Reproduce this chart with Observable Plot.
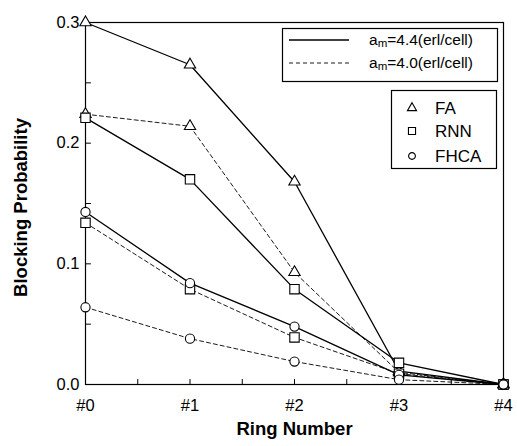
<!DOCTYPE html>
<html>
<head>
<meta charset="utf-8">
<script src="https://cdn.jsdelivr.net/npm/d3@7"></script>
<script src="https://cdn.jsdelivr.net/npm/@observablehq/plot@0.6"></script>
<style>
  body { margin: 0; background: #fff; }
  #wrap { position: relative; width: 517px; height: 446px; font-family: "Liberation Sans", Arial, Helvetica, sans-serif; }
  #legend { position: absolute; left: 0; top: 0; pointer-events: none; }
</style>
</head>
<body>
<div id="wrap"></div>
<script>
// ---- data ----
const rings = [0, 1, 2, 3, 4];
const ringLabels = ["#0", "#1", "#2", "#3", "#4"];
const ringMinorTicks = [0.5, 1.5, 2.5, 3.5];
const yMajorTicks = [0, 0.1, 0.2, 0.3];
const yMinorTicks = [0.05, 0.15, 0.25];
const methods = ["FA", "RNN", "FHCA"];
const loads = ["am=4.4(erl/cell)", "am=4.0(erl/cell)"];

// am = 4.4 (solid)
const faHigh   = [0.300, 0.265, 0.168, 0.011, 0];
const rnnHigh  = [0.221, 0.170, 0.079, 0.018, 0];
const fhcaHigh = [0.143, 0.084, 0.048, 0.008, 0];
// am = 4.0 (dashed)
const faLow    = [0.224, 0.214, 0.093, 0.010, 0];
const rnnLow   = [0.134, 0.079, 0.039, 0.009, 0];
const fhcaLow  = [0.064, 0.038, 0.019, 0.004, 0];

const series = [
  {method: "FA", load: "high", values: faHigh},
  {method: "RNN", load: "high", values: rnnHigh},
  {method: "FHCA", load: "high", values: fhcaHigh},
  {method: "FA", load: "low", values: faLow},
  {method: "RNN", load: "low", values: rnnLow},
  {method: "FHCA", load: "low", values: fhcaLow}
];
const rows = series.flatMap(s => s.values.map((v, i) => ({ring: rings[i], value: v, method: s.method, load: s.load, key: s.method + s.load})));

const font = "Liberation Sans, Arial, Helvetica, sans-serif";
const symbolOf = {FA: "triangle", RNN: "square", FHCA: "circle"};
const rOf = {FA: 4.2, RNN: 5.3, FHCA: 4.6};

const dotMarks = methods.map(m => Plot.dot(rows.filter(d => d.method === m), {
  x: "ring", y: "value", symbol: () => symbolOf[m], r: rOf[m], fill: "white", stroke: "black", strokeWidth: 1.1
}));

const tickShape = {draw(context, l) { context.moveTo(0, 0); context.lineTo(0, -l); }};

const chart = Plot.plot({
  width: 517,
  height: 446,
  marginLeft: 85,
  marginRight: 14,
  marginTop: 22,
  marginBottom: 62,
  style: {fontFamily: font, background: "white", color: "black"},
  x: {domain: [0, 4]},
  y: {domain: [0, 0.3]},
  symbol: {type: "identity"},
  marks: [
    Plot.frame({stroke: "black", strokeWidth: 1.2}),
    Plot.axisX({ticks: rings, tickSize: 0, tickPadding: 15, tickFormat: i => ringLabels[i], fontSize: 16.5, label: null}),
    Plot.axisY({ticks: yMajorTicks, tickSize: 0, tickPadding: 6, tickFormat: ".1f", fontSize: 16.5, label: null}),
    // inward tick marks
    Plot.vector(rings.concat(ringMinorTicks), {x: d => d, frameAnchor: "bottom", length: 5, rotate: 0, anchor: "start", shape: tickShape, stroke: "black", strokeWidth: 1}),
    Plot.vector(yMajorTicks.concat(yMinorTicks), {y: d => d, frameAnchor: "left", length: 5, rotate: 90, anchor: "start", shape: tickShape, stroke: "black", strokeWidth: 1}),
    Plot.line(rows.filter(d => d.load === "high"), {x: "ring", y: "value", z: "key", stroke: "black", strokeWidth: 1.3}),
    Plot.line(rows.filter(d => d.load === "low"), {x: "ring", y: "value", z: "key", stroke: "black", strokeWidth: 0.9, strokeDasharray: "4,3"}),
    ...dotMarks,
    Plot.text(["Blocking Probability"], {text: d => d, frameAnchor: "left", textAnchor: "middle", lineAnchor: "middle", dx: -64, dy: 4, rotate: -90, fontSize: 18.5, fontWeight: "bold", fill: "black"}),
    Plot.text(["Ring Number"], {text: d => d, frameAnchor: "bottom", textAnchor: "middle", lineAnchor: "middle", dy: 45, fontSize: 18.5, fontWeight: "bold", fill: "black"})
  ]
});

const wrap = document.getElementById("wrap");
wrap.appendChild(chart);

// ---- legends (overlay) ----
const svg = d3.select(wrap).append("svg").attr("id", "legend").attr("width", 517).attr("height", 446)
  .style("font-family", font);

// load legend
const g1 = svg.append("g");
g1.append("rect").attr("x", 282.5).attr("y", 28.5).attr("width", 215).attr("height", 53).attr("fill", "white").attr("stroke", "black").attr("stroke-width", 1.2);
const dashes = [null, "4,3"];
loads.forEach((lab, i) => {
  const y = 40 + i * 23;
  g1.append("line").attr("x1", 289).attr("x2", 349).attr("y1", y).attr("y2", y)
    .attr("stroke", "black").attr("stroke-width", i ? 0.9 : 1.3).attr("stroke-dasharray", dashes[i]);
  const t = g1.append("text").attr("x", 369).attr("y", y + 5).attr("font-size", 15.5).attr("fill", "black");
  t.append("tspan").text(lab.slice(0, 1));
  t.append("tspan").attr("font-size", 11.5).attr("dy", 2).text(lab.slice(1, 2));
  t.append("tspan").attr("dy", -2).text(lab.slice(2));
});

// method legend
const g2 = svg.append("g");
g2.append("rect").attr("x", 391.5).attr("y", 90.5).attr("width", 105).attr("height", 78).attr("fill", "white").attr("stroke", "black").attr("stroke-width", 1.2);
const symMap = {FA: d3.symbolTriangle, RNN: d3.symbolSquare, FHCA: d3.symbolCircle};
const legR = {FA: 3.4, RNN: 4.0, FHCA: 3.4};
const legY = [108, 131, 156];
methods.forEach((m, i) => {
  g2.append("path").attr("transform", `translate(412,${legY[i]})`)
    .attr("d", d3.symbol(symMap[m], Math.PI * legR[m] * legR[m])())
    .attr("fill", "white").attr("stroke", "black").attr("stroke-width", 1.1);
  g2.append("text").attr("x", 435).attr("y", legY[i] + 6).attr("font-size", 17).attr("fill", "black").text(m);
});
</script>
</body>
</html>
